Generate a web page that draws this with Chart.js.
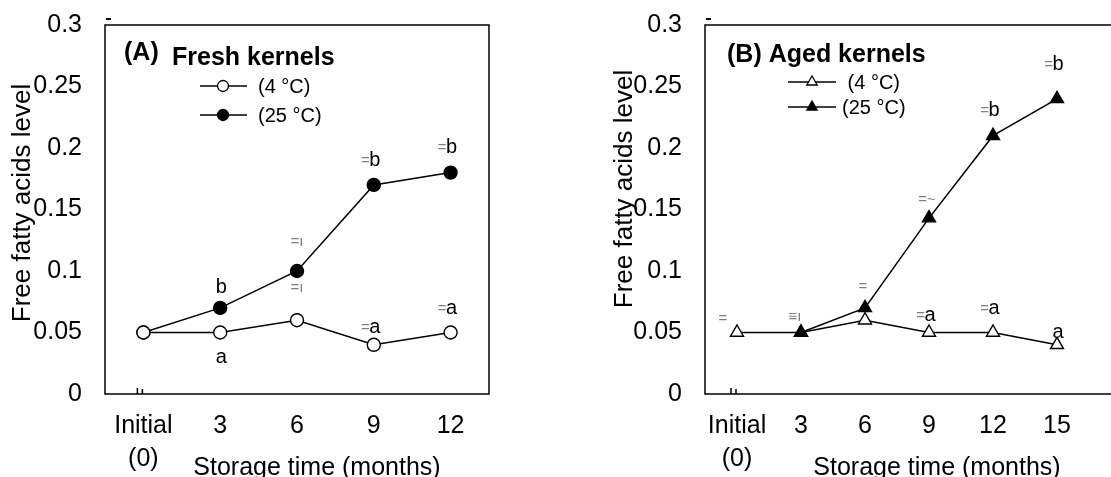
<!DOCTYPE html>
<html><head><meta charset="utf-8">
<script src="https://cdn.jsdelivr.net/npm/chart.js@4"></script>
<style>
html,body{margin:0;padding:0;background:#fff;}
#wrap{position:relative;width:1111px;height:477px;overflow:hidden;background:#fff;}
canvas{position:absolute;top:0;}
#cA{left:0;} #cB{left:560px;}
</style></head><body>
<div id="wrap"><canvas id="cA" width="560" height="477"></canvas><canvas id="cB" width="551" height="477"></canvas></div>
<script>
// ---- data ----
const categoriesA = [['Initial','(0)'],'3','6','9','12'];
const categoriesB = [['Initial','(0)'],'3','6','9','12','15'];
const freshCold = [0.05, 0.05, 0.06, 0.04, 0.05];
const freshWarm = [0.05, 0.07, 0.10, 0.17, 0.18];
const agedCold  = [0.05, 0.05, 0.06, 0.05, 0.05, 0.04];
const agedWarm  = [null, 0.05, 0.07, 0.143, 0.21, 0.24];
const yTickValues = [0, 0.05, 0.1, 0.15, 0.2, 0.25, 0.3];
const yTickLabels = ['0', '0.05', '0.1', '0.15', '0.2', '0.25', '0.3'];
const seriesLabels = ['(4 °C)', '(25 °C)'];
const panelTitles = [['(A)', 'Fresh kernels'], ['(B) Aged kernels']];
const yTitle = 'Free fatty acids level';
const xTitle = 'Storage time (months)';
// significance letters and the faint grey marks printed next to them
const freshColdLetters = ['', 'a', '', 'a', 'a'];
const freshColdMarks   = ['', '', '=ı', '=', '='];
const freshWarmLetters = ['', 'b', '', 'b', 'b'];
const freshWarmMarks   = ['', '', '=ı', '=', '='];
const agedColdLetters  = ['', '', '', 'a', 'a', 'a'];
const agedColdMarks    = ['=', '≡ı', '', '=', '=', ''];
const agedWarmLetters  = ['', '', '', '', 'b', 'b'];
const agedWarmMarks    = ['', '', '=', '=~', '=', '='];

// ---- styles / layout ----
const FONT = '"Liberation Sans", Arial, sans-serif';
const freshColdDy = [0, 30, -28, -12, -19];
const freshWarmDy = [0, -15, -25, -19, -20];
const agedColdDy  = [-10, -12, 0, -12, -19, -7];
const agedWarmDy  = [0, 0, -17, -14, -20, -29];

const decor = {
  id: 'decor',
  afterDatasetsDraw(chart, args, o) {
    const ctx = chart.ctx, a = chart.chartArea;
    ctx.save();
    // frame
    ctx.strokeStyle = '#000'; ctx.lineWidth = 1.5;
    ctx.beginPath();
    if (o.open) {
      ctx.moveTo(chart.width, a.top); ctx.lineTo(a.left, a.top);
      ctx.lineTo(a.left, a.bottom); ctx.lineTo(chart.width, a.bottom);
    } else {
      ctx.rect(a.left, a.top, a.right - a.left, a.bottom - a.top);
    }
    ctx.stroke();
    // tiny stray marks of the original
    ctx.lineWidth = 2;
    ctx.beginPath(); ctx.moveTo(a.left + 1, a.top - 6); ctx.lineTo(a.left + 6, a.top - 6); ctx.stroke();
    const x0 = chart.scales.x.getPixelForValue(0);
    ctx.lineWidth = 1.5;
    ctx.beginPath(); ctx.moveTo(x0 - 6, a.bottom); ctx.lineTo(x0 - 6, a.bottom - 6);
    ctx.moveTo(x0 - 1, a.bottom); ctx.lineTo(x0 - 1, a.bottom - 5); ctx.stroke();

    // axis titles
    ctx.fillStyle = '#000';
    ctx.font = '25px ' + FONT; ctx.textAlign = 'center'; ctx.textBaseline = 'alphabetic';
    ctx.fillText(xTitle, o.xTitle[0], o.xTitle[1]);
    ctx.save();
    ctx.translate(o.yTitle[0], o.yTitle[1]); ctx.rotate(-Math.PI / 2);
    ctx.font = '26px ' + FONT;
    ctx.fillText(yTitle, 0, 0);
    ctx.restore();

    // heading
    ctx.font = 'bold 25px ' + FONT; ctx.textAlign = 'left';
    o.heading.forEach(h => ctx.fillText(h[0], h[1], h[2]));

    // legend
    o.legend.forEach((L, i) => {
      const ds = chart.data.datasets[L.ds];
      ctx.strokeStyle = '#000'; ctx.lineWidth = 1.3;
      ctx.beginPath(); ctx.moveTo(L.x1, L.y); ctx.lineTo(L.x2, L.y); ctx.stroke();
      ctx.fillStyle = ds.pointBackgroundColor; ctx.strokeStyle = '#000'; ctx.lineWidth = 1.3;
      Chart.helpers.drawPoint(ctx, {pointStyle: ds.pointStyle, radius: L.r, borderWidth: 1.3, rotation: 0}, L.mx, L.y);
      ctx.fillStyle = '#000'; ctx.font = '20px ' + FONT; ctx.textAlign = 'left'; ctx.textBaseline = 'middle';
      ctx.fillText(ds.label, L.tx, L.y + 1);
    });

    // letters
    ctx.textBaseline = 'alphabetic';
    o.notes.forEach(n => {
      const meta = chart.getDatasetMeta(n.ds);
      n.letters.forEach((t, i) => {
        const m = n.marks[i];
        if (!t && !m) return;
        const pt = meta.data[i];
        const x = pt.x, y = pt.y + n.dy[i];
        if (t) {
          ctx.fillStyle = '#000'; ctx.font = '20px ' + FONT; ctx.textAlign = 'center';
          ctx.fillText(t, x + 1, y);
          if (m) {
            ctx.fillStyle = '#808080'; ctx.font = '15px ' + FONT; ctx.textAlign = 'right';
            ctx.fillText(m, x - 4, y - 1);
          }
        } else {
          ctx.fillStyle = '#808080'; ctx.font = '15px ' + FONT; ctx.textAlign = 'center';
          ctx.fillText(m, x + (n.mdx ? n.mdx[i] : 0), y);
        }
      });
    });
    ctx.restore();
  }
};

function makeChart(id, cats, sets, layoutPad, decorOpts) {
  return new Chart(document.getElementById(id), {
    type: 'line',
    data: { labels: cats, datasets: sets },
    options: {
      responsive: false, animation: false, devicePixelRatio: 1,
      layout: { padding: layoutPad },
      plugins: { legend: { display: false }, tooltip: { enabled: false }, decor: decorOpts },
      scales: {
        x: {
          type: 'category', offset: true,
          grid: { display: false, drawTicks: false }, border: { display: false },
          ticks: { color: '#000', font: { family: FONT, size: 25, lineHeight: 1.32 }, padding: 16, maxRotation: 0, autoSkip: false },
          afterFit(s) { s.height = 83; s.paddingLeft = 0; s.paddingRight = 0; }
        },
        y: {
          min: 0, max: 0.3,
          grid: { display: false, drawTicks: false }, border: { display: false },
          afterBuildTicks(s) { s.ticks = yTickValues.map(v => ({ value: v })); },
          ticks: { color: '#000', font: { family: FONT, size: 25 }, padding: 23,
                   callback: (v, i) => yTickLabels[i] },
          afterFit(s) { s.width = 105; s.paddingTop = 0; s.paddingBottom = 0; }
        }
      }
    },
    plugins: [decor]
  });
}

const lineBase = { borderColor: '#000', borderWidth: 1.5, pointBorderColor: '#000', pointBorderWidth: 1.4, tension: 0, spanGaps: false };

makeChart('cA', categoriesA, [
  Object.assign({}, lineBase, { label: seriesLabels[0], data: freshCold, pointStyle: 'circle', pointRadius: 6.5, pointBackgroundColor: '#fff', order: 0 }),
  Object.assign({}, lineBase, { label: seriesLabels[1], data: freshWarm, pointStyle: 'circle', pointRadius: 6.5, pointBackgroundColor: '#000', order: 1 })
], { left: 0, top: 25, right: 71, bottom: 0 }, {
  open: false,
  xTitle: [317, 475], yTitle: [30, 203],
  heading: [[panelTitles[0][0], 124, 60], [panelTitles[0][1], 172, 65]],
  legend: [
    { ds: 0, x1: 200, x2: 247, mx: 223, y: 86, r: 5.5, tx: 258 },
    { ds: 1, x1: 200, x2: 247, mx: 223, y: 115, r: 5.5, tx: 258 }
  ],
  notes: [
    { ds: 0, letters: freshColdLetters, marks: freshColdMarks, dy: freshColdDy },
    { ds: 1, letters: freshWarmLetters, marks: freshWarmMarks, dy: freshWarmDy }
  ]
});

makeChart('cB', categoriesB, [
  Object.assign({}, lineBase, { label: '\u00a0' + seriesLabels[0], data: agedCold, pointStyle: 'triangle', pointRadius: 7.5, pointBackgroundColor: '#fff', order: 1 }),
  Object.assign({}, lineBase, { label: seriesLabels[1], data: agedWarm, pointStyle: 'triangle', pointRadius: 7.5, pointBackgroundColor: '#000', order: 0 })
], { left: 40, top: 25, right: 22, bottom: 0 }, {
  open: true,
  xTitle: [377, 475], yTitle: [72, 189],
  heading: [[panelTitles[1][0], 167, 62]],
  legend: [
    { ds: 0, x1: 228, x2: 276, mx: 252, y: 82, r: 6, tx: 282 },
    { ds: 1, x1: 228, x2: 276, mx: 252, y: 107, r: 6, tx: 282 }
  ],
  notes: [
    { ds: 0, letters: agedColdLetters, marks: agedColdMarks, dy: agedColdDy, mdx: [-14, -6, 0, 0, 0, 0] },
    { ds: 1, letters: agedWarmLetters, marks: agedWarmMarks, dy: agedWarmDy, mdx: [0, 0, -2, -2, 0, 0] }
  ]
});
</script>
</body></html>
